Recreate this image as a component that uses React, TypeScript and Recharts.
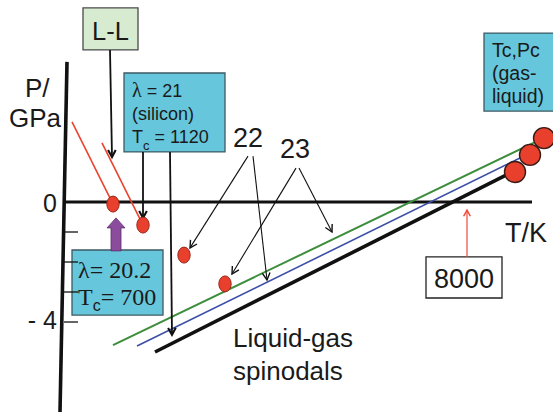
import React from "react";
import {
  ComposedChart,
  XAxis,
  YAxis,
  Scatter,
  ReferenceLine,
  ReferenceArea,
  ReferenceDot,
} from "recharts";

type Pt = [number, number];

// T in K (x), P in GPa (y)
const T_DOMAIN: Pt = [-1340, 9720];
const P_DOMAIN: Pt = [-7, 6.7333];
const P_TICKS = [-1, -2, -3, -4];

// liquid-liquid critical points, lambda = 20.2, 21, 22, 23
const llCritical = [
  { T: 920, P: -0.07 },
  { T: 1520, P: -0.77 },
  { T: 2340, P: -1.77 },
  { T: 3160, P: -2.73 },
];

// gas-liquid critical points
const glCritical = [
  { T: 8960, P: 1.0 },
  { T: 9260, P: 1.57 },
  { T: 9540, P: 2.13 },
];

// L-L lines running into their critical points
const llLines: Pt[][] = [
  [[100, 2.67], [920, -0.07]],
  [[700, 1.97], [1520, -0.77]],
];

// liquid-gas spinodals
const spinodals: Pt[][] = [
  [[920, -4.77], [9400, 2.03]],
  [[1400, -4.8], [9100, 1.5]],
  [[1760, -5.0], [8820, 0.93]],
];
const spinodalColors = ["#3c8d3c", "#3b4fa6", "#111111"];
const spinodalWidths = [2, 1.6, 3.6];

// pointer arrows
const arrows: Pt[][] = [
  [[860, 5.07], [900, 1.5]],
  [[1520, 1.67], [1520, -0.53]],
  [[2060, 1.67], [2100, -4.43]],
  [[3620, 1.53], [2460, -1.53]],
  [[3720, 1.53], [4000, -2.6]],
  [[4580, 1.13], [3300, -2.4]],
  [[4640, 1.13], [5300, -1.0]],
];
const arrowWidths = [1.8, 1.8, 1.8, 1.1, 1.1, 1.1, 1.1];
const arrow8000: Pt[] = [[8000, -1.83], [8000, -0.27]];
const purpleArrow: Pt[] = [[980, -1.63], [980, -0.53]];

const yAxisLine: Pt[] = [[0, 4.67], [-140, -7]];
const xAxisLine: Pt[] = [[-40, 0], [9300, 0]];

// boxes [T1, T2, P1, P2]
const boxes = [
  [320, 1420, 5.07, 6.47],
  [1140, 3160, 1.67, 4.3],
  [100, 1920, -3.77, -1.6],
  [8340, 9800, 3.03, 5.63],
  [7180, 8700, -3.2, -1.83],
];
const boxFills = ["#d6ebd0", "#66c6db", "#66c6db", "#66c6db", "#ffffff"];
const boxStrokes = ["#4a4a4a", "#3d5a63", "#3d5a63", "#3d5a63", "#222222"];

const SANS = "'Liberation Sans', Arial, Helvetica, sans-serif";
const SERIF = "'Liberation Serif', 'Times New Roman', serif";

type Txt = { T: number; P: number; lines: React.ReactNode[]; size: number; anchor?: string; lh?: number; font?: string };

const texts: Txt[] = [
  { T: -840, P: 3.5, lines: ["P/"], size: 26 },
  { T: -1160, P: 2.5, lines: ["GPa"], size: 26 },
  { T: -200, P: -0.333, lines: ["0"], size: 25, anchor: "end" },
  { T: -200, P: -4.233, lines: ["- 4"], size: 25, anchor: "end" },
  { T: 3320, P: 1.833, lines: ["22"], size: 27 },
  { T: 4260, P: 1.467, lines: ["23"], size: 27 },
  { T: 8760, P: -1.333, lines: ["T/K"], size: 27 },
  { T: 3320, P: -4.833, lines: ["Liquid-gas", "spinodals"], size: 26, lh: 33 },
  { T: 7940, P: -2.867, lines: ["8000"], size: 27, anchor: "middle" },
  { T: 870, P: 5.4, lines: ["L-L"], size: 25.5, anchor: "middle" },
  {
    T: 1300,
    P: 3.5,
    size: 18,
    lh: 23,
    lines: [
      <>
        <tspan fontFamily={SERIF} fontSize={20}>λ</tspan> = 21
      </>,
      "(silicon)",
      <>
        T<tspan dy={7} fontSize={13}>c</tspan>
        <tspan dy={-7}> = 1120</tspan>
      </>,
    ],
  },
  {
    T: 220,
    P: -2.533,
    size: 24,
    lh: 27,
    font: SERIF,
    lines: [
      "λ= 20.2",
      <>
        T<tspan dy={6} fontSize={16} fontFamily={SANS}>c</tspan>
        <tspan dy={-6}>= 700</tspan>
      </>,
    ],
  },
  { T: 8500, P: 4.833, lines: ["Tc,Pc", "(gas-", "liquid)"], size: 19.5, lh: 23 },
];

const arrowShape = (color: string, width: number, head = 8) => (props: any) => {
  const { x1, y1, x2, y2 } = props;
  const a = Math.atan2(y2 - y1, x2 - x1);
  const s = 0.5;
  const h1 = [x2 - head * Math.cos(a - s), y2 - head * Math.sin(a - s)];
  const h2 = [x2 - head * Math.cos(a + s), y2 - head * Math.sin(a + s)];
  return (
    <g>
      <line x1={x1} y1={y1} x2={x2} y2={y2} stroke={color} strokeWidth={width} />
      <polyline
        points={`${h1[0]},${h1[1]} ${x2},${y2} ${h2[0]},${h2[1]}`}
        fill="none"
        stroke={color}
        strokeWidth={width + 0.3}
      />
    </g>
  );
};

const fatArrow = (props: any) => {
  const { x1, y1, x2, y2 } = props;
  const cx = (x1 + x2) / 2;
  const top = Math.min(y1, y2);
  const bot = Math.max(y1, y2);
  const hl = 10;
  const pts = [
    [cx - 5, bot],
    [cx - 5, top + hl],
    [cx - 9, top + hl],
    [cx, top],
    [cx + 9, top + hl],
    [cx + 5, top + hl],
    [cx + 5, bot],
  ];
  return <polygon points={pts.map((p) => p.join(",")).join(" ")} fill="#8c4c9e" stroke="#5b2f6a" strokeWidth={0.8} />;
};

const textShape = (t: Txt) => (props: any) => (
  <text
    x={props.cx}
    y={props.cy}
    fontSize={t.size}
    fontFamily={t.font ?? SANS}
    textAnchor={t.anchor ?? "start"}
    fill="#1a1a1a"
  >
    {t.lines.map((l, i) => (
      <tspan key={i} x={props.cx} dy={i === 0 ? 0 : t.lh}>
        {l}
      </tspan>
    ))}
  </text>
);

export default function App() {
  return (
    <div style={{ position: "absolute", left: 0, top: 0, width: 553, height: 412, background: "#fff" }}>
      <ComposedChart width={553} height={412} margin={{ top: 0, right: 0, bottom: 0, left: 0 }}>
        <XAxis type="number" dataKey="T" domain={T_DOMAIN} hide allowDataOverflow />
        <YAxis type="number" dataKey="P" domain={P_DOMAIN} hide allowDataOverflow />

        {boxes.map((b, i) => (
          <ReferenceArea
            key={"box" + i}
            x1={b[0]}
            x2={b[1]}
            y1={b[2]}
            y2={b[3]}
            fill={boxFills[i]}
            fillOpacity={1}
            stroke={boxStrokes[i]}
            strokeWidth={1.3}
            ifOverflow="visible"
          />
        ))}

        {P_TICKS.map((p) => (
          <ReferenceLine
            key={"tick" + p}
            segment={[{ x: -60, y: p }, { x: 220, y: p }]}
            stroke="#111"
            strokeWidth={1.3}
            ifOverflow="visible"
          />
        ))}

        <ReferenceLine
          segment={yAxisLine.map(([x, y]) => ({ x, y }))}
          stroke="#111"
          strokeWidth={3.6}
          ifOverflow="visible"
        />
        <ReferenceLine
          segment={xAxisLine.map(([x, y]) => ({ x, y }))}
          stroke="#111"
          strokeWidth={3.2}
          ifOverflow="visible"
        />

        {spinodals.map((s, i) => (
          <ReferenceLine
            key={"sp" + i}
            segment={s.map(([x, y]) => ({ x, y }))}
            stroke={spinodalColors[i]}
            strokeWidth={spinodalWidths[i]}
            ifOverflow="visible"
          />
        ))}

        {llLines.map((s, i) => (
          <ReferenceLine
            key={"ll" + i}
            segment={s.map(([x, y]) => ({ x, y }))}
            stroke="#e8452f"
            strokeWidth={1.6}
            ifOverflow="visible"
          />
        ))}

        {arrows.map((s, i) => (
          <ReferenceLine
            key={"ar" + i}
            segment={s.map(([x, y]) => ({ x, y }))}
            ifOverflow="visible"
            shape={arrowShape("#111", arrowWidths[i])}
          />
        ))}
        <ReferenceLine
          segment={arrow8000.map(([x, y]) => ({ x, y }))}
          ifOverflow="visible"
          shape={arrowShape("#f04a3a", 1.2, 7)}
        />
        <ReferenceLine
          segment={purpleArrow.map(([x, y]) => ({ x, y }))}
          ifOverflow="visible"
          shape={fatArrow}
        />

        <Scatter
          data={llCritical}
          isAnimationActive={false}
          shape={(p: any) => (
            <ellipse cx={p.cx} cy={p.cy} rx={6.2} ry={8} fill="#e8402c" stroke="#9a2a1c" strokeWidth={1} />
          )}
        />
        <Scatter
          data={glCritical}
          isAnimationActive={false}
          shape={(p: any) => (
            <circle cx={p.cx} cy={p.cy} r={10.5} fill="#e8402c" stroke="#3a1c16" strokeWidth={1.4} />
          )}
        />

        {texts.map((t, i) => (
          <ReferenceDot key={"tx" + i} x={t.T} y={t.P} ifOverflow="visible" shape={textShape(t)} />
        ))}
      </ComposedChart>
    </div>
  );
}
